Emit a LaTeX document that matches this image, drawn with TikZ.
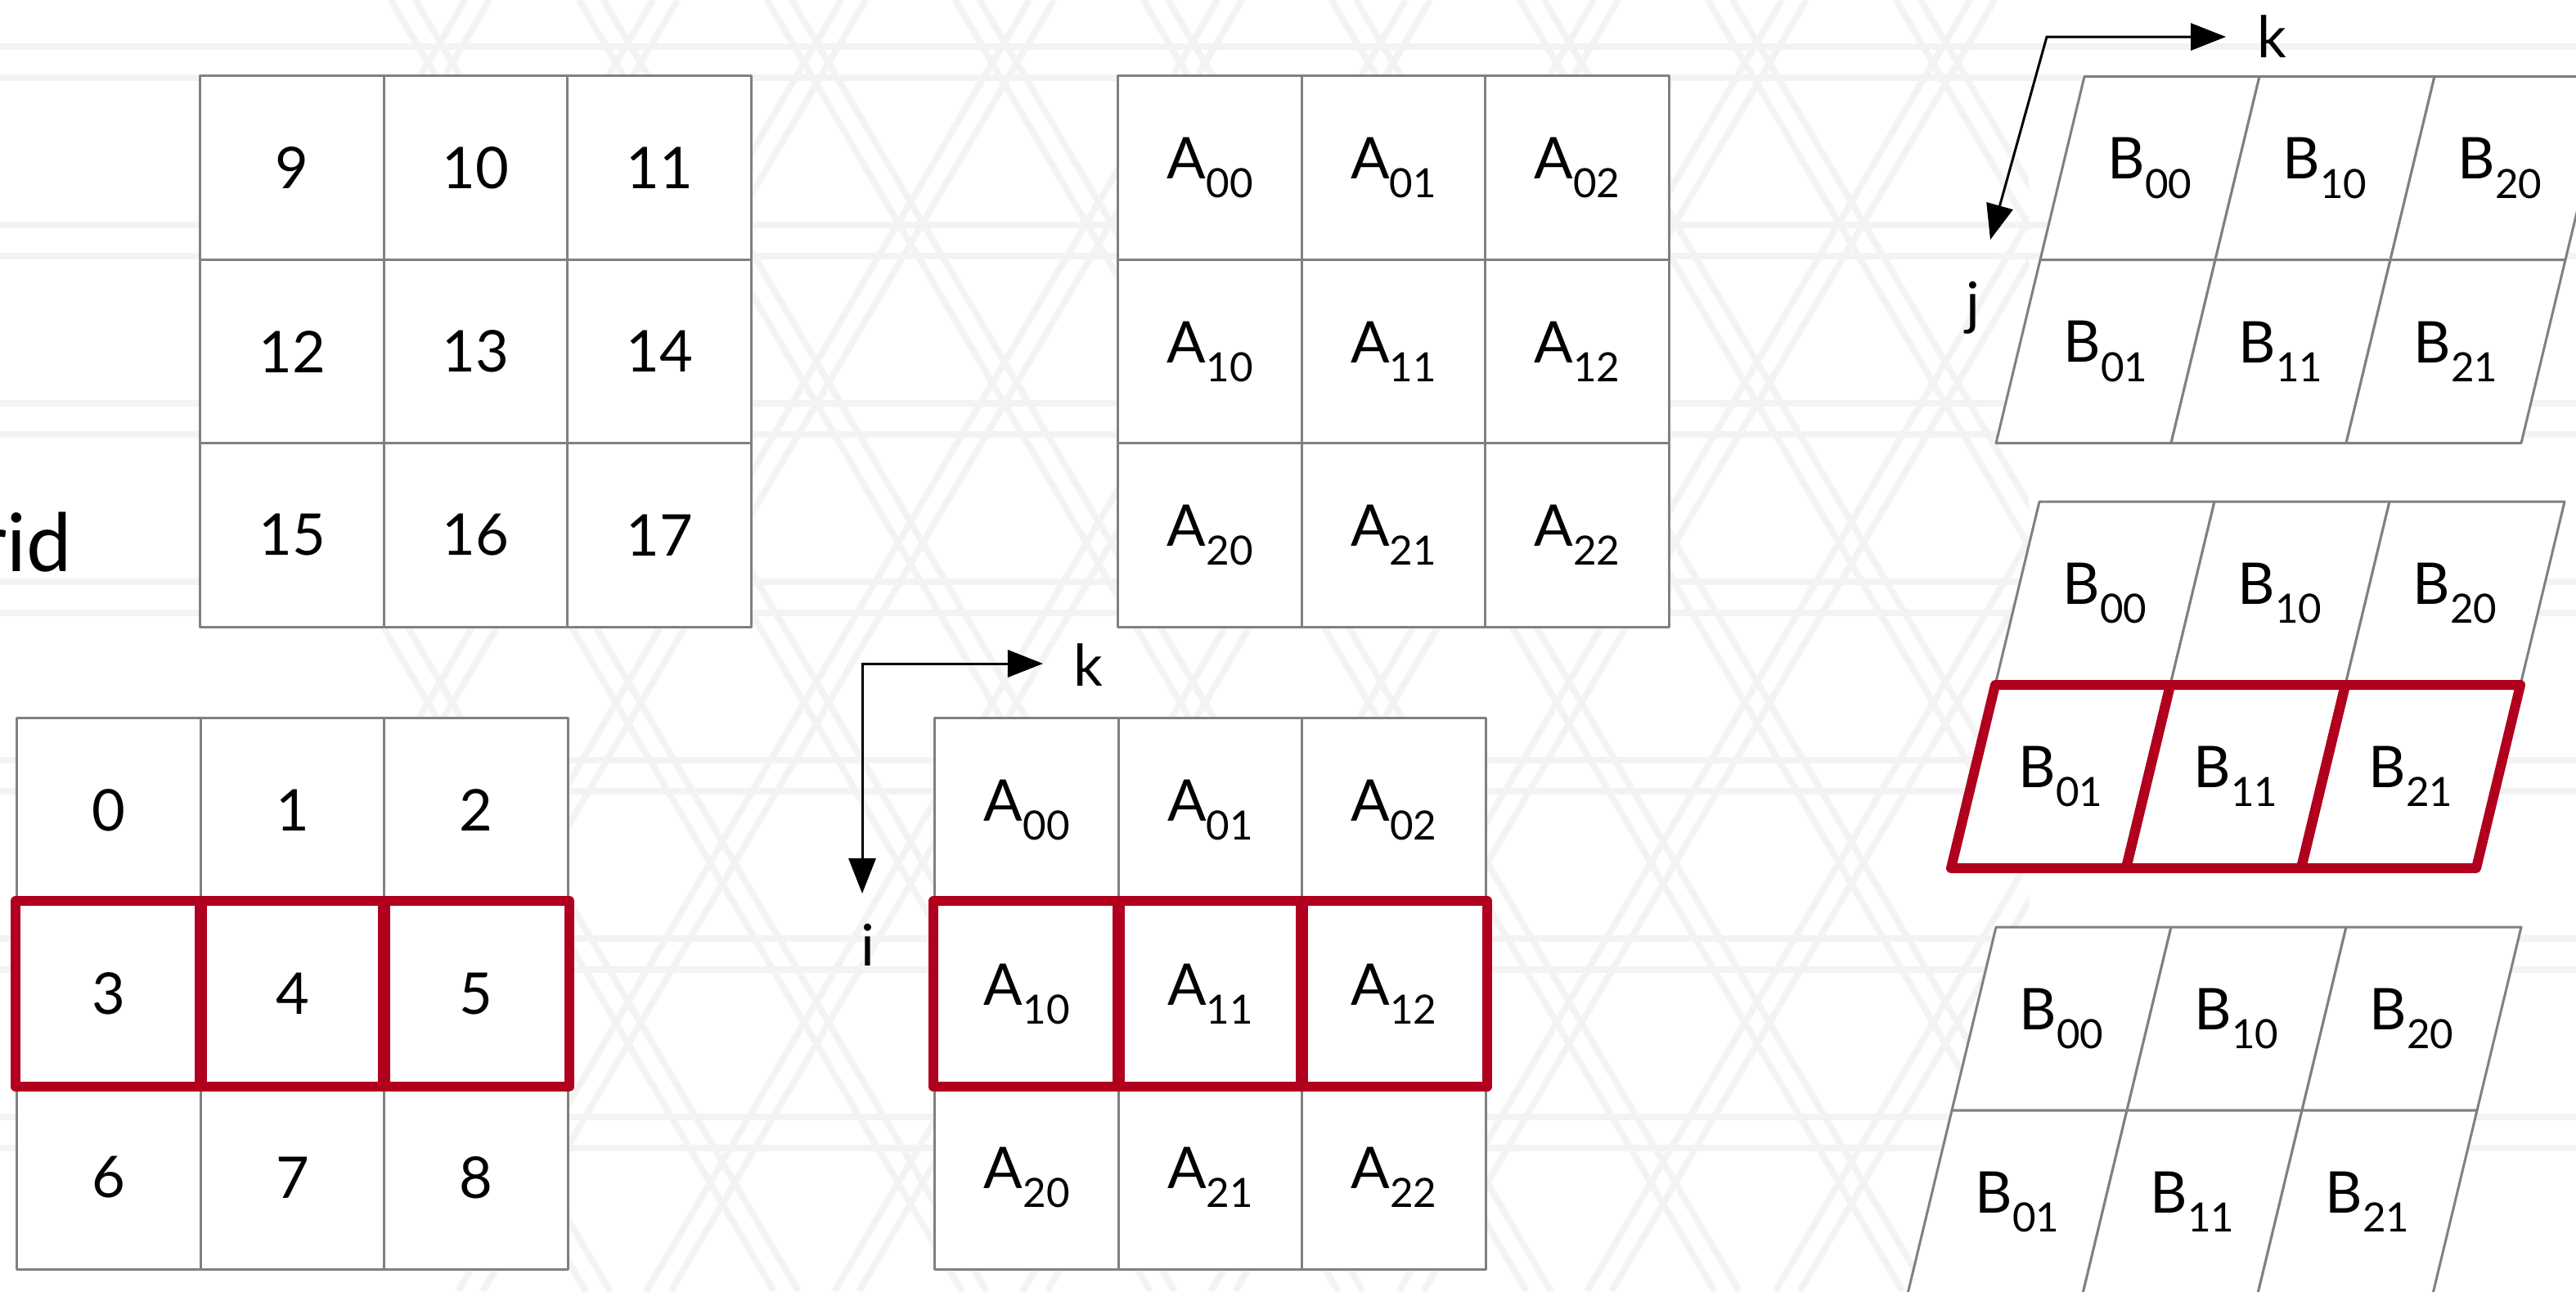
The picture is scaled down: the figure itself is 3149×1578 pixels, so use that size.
\documentclass[tikz,border=0pt]{standalone}
\usepackage{fontspec}
\setmainfont{Lato}
\usetikzlibrary{arrows.meta}
\definecolor{cellgray}{RGB}{128,128,128}
\definecolor{hired}{RGB}{176,0,30}
\definecolor{wmark}{RGB}{243,243,243}
\newcommand{\mysub}[1]{\raisebox{-6.6pt}{\fontsize{14}{14}\selectfont #1}}
\tikzset{
  cellline/.style={draw=cellgray, line width=0.03cm, line join=round},
  cellbox/.style={cellline, fill=white, minimum width=2.244cm, minimum height=2.244cm, inner sep=0pt, font=\fontsize{20}{24}\selectfont},
  txt/.style={inner sep=0pt, font=\fontsize{20}{24}\selectfont},
  redline/.style={draw=hired, line width=0.12cm, line join=round, line cap=round},
  axisline/.style={draw=black, line width=0.03cm, {Triangle[length=0.43cm,width=0.33cm]}-{Triangle[length=0.43cm,width=0.33cm]}},
  wmline/.style={draw=wmark, line width=0.08cm},
}
\newcommand{\bgrid}[3]{%
  \foreach \i in {0,1,2}{\foreach \j in {0,1}{
    \pgfmathsetmacro{\xa}{#1+214*\i-54*\j}
    \pgfmathsetmacro{\ya}{#2+224*\j}
    \draw[cellline, fill=white] (\xa,\ya) -- ++(214,0) -- ++(-54,224) -- ++(-214,0) -- cycle;
    \node[txt] (#3\i\j) at (\xa+80,\ya+112) {B\mysub{\i\j}};
  }}}
\begin{document}
\begin{tikzpicture}[x=0.01cm,y=-0.01cm]
\useasboundingbox (0,0) rectangle (3149,1578);
\clip (0,0) rectangle (3149,1578);
\fill[white] (0,0) rectangle (3149,1578);
% faint watermark
\foreach \n in {0,...,6}{
  \draw[wmline] (0,57+218*\n) -- (3149,57+218*\n);
  \draw[wmline] (0,95+218*\n) -- (3149,95+218*\n);
}
\begin{scope}
\clip (430,0) rectangle (2480,1578);
\foreach \n in {-7,...,5}{
  \pgfmathsetmacro{\cc}{298-1.7*1113+391*\n}
  \draw[wmline] ({-\cc/1.7},0) -- ({(1578-\cc)/1.7},1578);
  \draw[wmline] ({-\cc/1.7+30},0) -- ({(1578-\cc)/1.7+30},1578);
}
\foreach \m in {-3,...,9}{
  \pgfmathsetmacro{\dd}{298+1.7*1113+391*\m}
  \draw[wmline] ({\dd/1.7},0) -- ({(\dd-1578)/1.7},1578);
  \draw[wmline] ({\dd/1.7-30},0) -- ({(\dd-1578)/1.7-30},1578);
}
\end{scope}
% "rid"
\node[inner sep=0pt, anchor=base east, font=\fontsize{28}{32}\selectfont] (gridword) at (88,698) {rid};
% top-left grid 9..17
\foreach \r in {0,1,2}{\foreach \c in {0,1,2}{
  \pgfmathtruncatemacro{\v}{9+3*\r+\c}
  \node[cellbox] (t\v) at (245+224.4*\c+112.2, 93+224.4*\r+112.2) {\v};
}}
% top A grid
\foreach \r in {0,1,2}{\foreach \c in {0,1,2}{
  \node[cellbox] (at\r\c) at (1367+224.4*\c+112.2, 93+224.4*\r+112.2) {A\mysub{\r\c}};
}}
% bottom-left grid 0..8
\foreach \r in {0,1,2}{\foreach \c in {0,1,2}{
  \pgfmathtruncatemacro{\v}{3*\r+\c}
  \node[cellbox] (n\v) at (21+224.4*\c+112.2, 878+224.4*\r+112.2) {\v};
}}
% bottom A grid
\foreach \r in {0,1,2}{\foreach \c in {0,1,2}{
  \node[cellbox] (ab\r\c) at (1143+224.4*\c+112.2, 878+224.4*\r+112.2) {A\mysub{\r\c}};
}}
% red rows
\foreach \v in {3,4,5}{
  \draw[redline] (n\v.north west) rectangle (n\v.south east);
}
\foreach \c in {0,1,2}{
  \draw[redline] (ab1\c.north west) rectangle (ab1\c.south east);
}
% B grids (parallelograms)
\bgrid{2548}{93.5}{bt}
\bgrid{2493}{613}{bm}
\bgrid{2440}{1133}{bb}
\foreach \i in {0,1,2}{
  \draw[redline] (bm\i1.center) ++(-80,-112) -- ++(214,0) -- ++(-54,224) -- ++(-214,0) -- cycle;
}
% axes for A
\coordinate (aorig) at (1054,811);
\coordinate (atipk) at (1275,811);
\coordinate (atipi) at (1054,1092);
\draw[axisline] (atipk) -- (aorig) -- (atipi);
\node[txt] (alabk) at (1330,813) {k};
\node[txt] (alabi) at (1061,1155) {i};
% axes for B
\coordinate (borig) at (2502,45);
\coordinate (btipk) at (2721,45);
\coordinate (btipj) at (2433,293);
\draw[axisline] (btipk) -- (borig) -- (btipj);
\node[txt] (blabk) at (2777,45) {k};
\node[txt] (blabj) at (2412,376) {j};
\end{tikzpicture}
\end{document}
